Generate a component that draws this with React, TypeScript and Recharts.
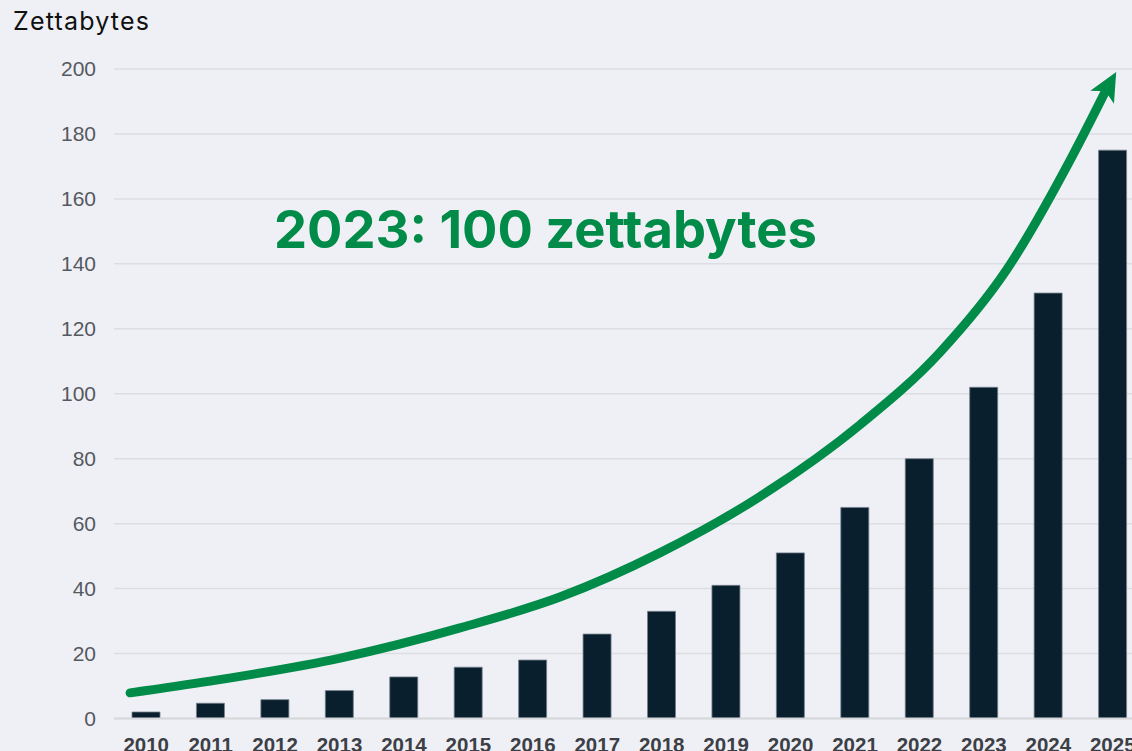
import {
  ComposedChart,
  Bar,
  Line,
  XAxis,
  YAxis,
  CartesianGrid,
} from 'recharts';

const years = ['2010', '2011', '2012', '2013', '2014', '2015', '2016', '2017', '2018', '2019', '2020', '2021', '2022', '2023', '2024', '2025'];
const zettabytes = [2, 4.7, 5.8, 8.6, 12.8, 15.8, 18, 26, 33, 41, 51, 65, 80, 102, 131, 175];
const yTicks = [0, 20, 40, 60, 80, 100, 120, 140, 160, 180, 200];

// trend arrow, position along the year axis (0 = 2010) and height in ZB
const curvePos = [-0.25, 0.99, 3.01, 4.87, 6.42, 7.97, 9.52, 11.08, 12.32, 13.35, 14.38, 14.88];
const curveVal = [7.9, 11.5, 18.6, 27.9, 37.4, 51.0, 68.3, 90.5, 112.8, 138.1, 173.5, 192.9];

const barData = years.map((year, i) => ({ year, value: zettabytes[i] }));
const curveData = curvePos.map((t, i) => ({ t, v: curveVal[i] }));

const GREEN = '#008b48';
const ARROW_ANGLE = (-61 * Math.PI) / 180;

function ArrowHead({ cx, cy }: { cx: number; cy: number }) {
  const ux = Math.cos(ARROW_ANGLE);
  const uy = Math.sin(ARROW_ANGLE);
  const px = -uy;
  const py = ux;
  const pt = (a: number, b: number) => `${cx + a * ux + b * px},${cy + a * uy + b * py}`;
  return (
    <polygon
      points={[pt(23, 0), pt(-6, -13.5), pt(1, 0), pt(-6, 13.5)].join(' ')}
      fill={GREEN}
    />
  );
}

export default function App() {
  const last = curveData.length - 1;
  return (
    <div
      style={{
        position: 'fixed',
        left: 0,
        top: 0,
        width: 1132,
        height: 751,
        overflow: 'hidden',
        background: '#eff0f5',
      }}
    >
      <ComposedChart
        width={1145}
        height={790}
        data={barData}
        margin={{ top: 69, right: 0, bottom: 0, left: 0 }}
      >
        <CartesianGrid vertical={false} stroke="#dcdde2" strokeWidth={1.5} />
        <XAxis
          xAxisId="main"
          dataKey="year"
          height={71.5}
          tickLine={false}
          tickSize={0}
          tickMargin={19}
          axisLine={{ stroke: '#d6d7db', strokeWidth: 2 }}
          interval={0}
          tick={{ fill: '#3c4046', fontSize: 20.5, fontWeight: 700, fontFamily: 'Liberation Sans, Arial, sans-serif' }}
        />
        <XAxis
          xAxisId="curve"
          type="number"
          dataKey="t"
          domain={[-0.5, 15.5]}
          allowDataOverflow
          height={0}
          hide
        />
        <YAxis
          width={114}
          domain={[0, 200]}
          ticks={yTicks}
          axisLine={false}
          tickLine={false}
          tickSize={0}
          tickMargin={18}
          tick={{ fill: '#55595f', fontSize: 21, fontFamily: 'Liberation Sans, Arial, sans-serif' }}
        />
        <Bar
          xAxisId="main"
          dataKey="value"
          barSize={28}
          fill="#0a1f2e"
          stroke="#74808b"
          strokeWidth={0.8}
          isAnimationActive={false}
        />
        <Line
          xAxisId="curve"
          data={curveData}
          dataKey="v"
          type="monotone"
          stroke={GREEN}
          strokeWidth={9}
          strokeLinecap="round"
          activeDot={false}
          isAnimationActive={false}
          dot={(props: any) =>
            props.index === last ? (
              <ArrowHead key="arrow" cx={props.cx} cy={props.cy} />
            ) : (
              <g key={`d${props.index}`} />
            )
          }
        />
      </ComposedChart>
      <svg
        width={1132}
        height={751}
        style={{ position: 'absolute', left: 0, top: 0, pointerEvents: 'none' }}
      >
        <text x={13} y={30} fontSize={25} letterSpacing={1.2} fill="#111" fontFamily="Inter, sans-serif">
          Zettabytes
        </text>
        <text x={274} y={248} fontSize={52.5} fontWeight={700} fill={GREEN} fontFamily="Inter, sans-serif">
          2023: 100 zettabytes
        </text>
      </svg>
    </div>
  );
}
